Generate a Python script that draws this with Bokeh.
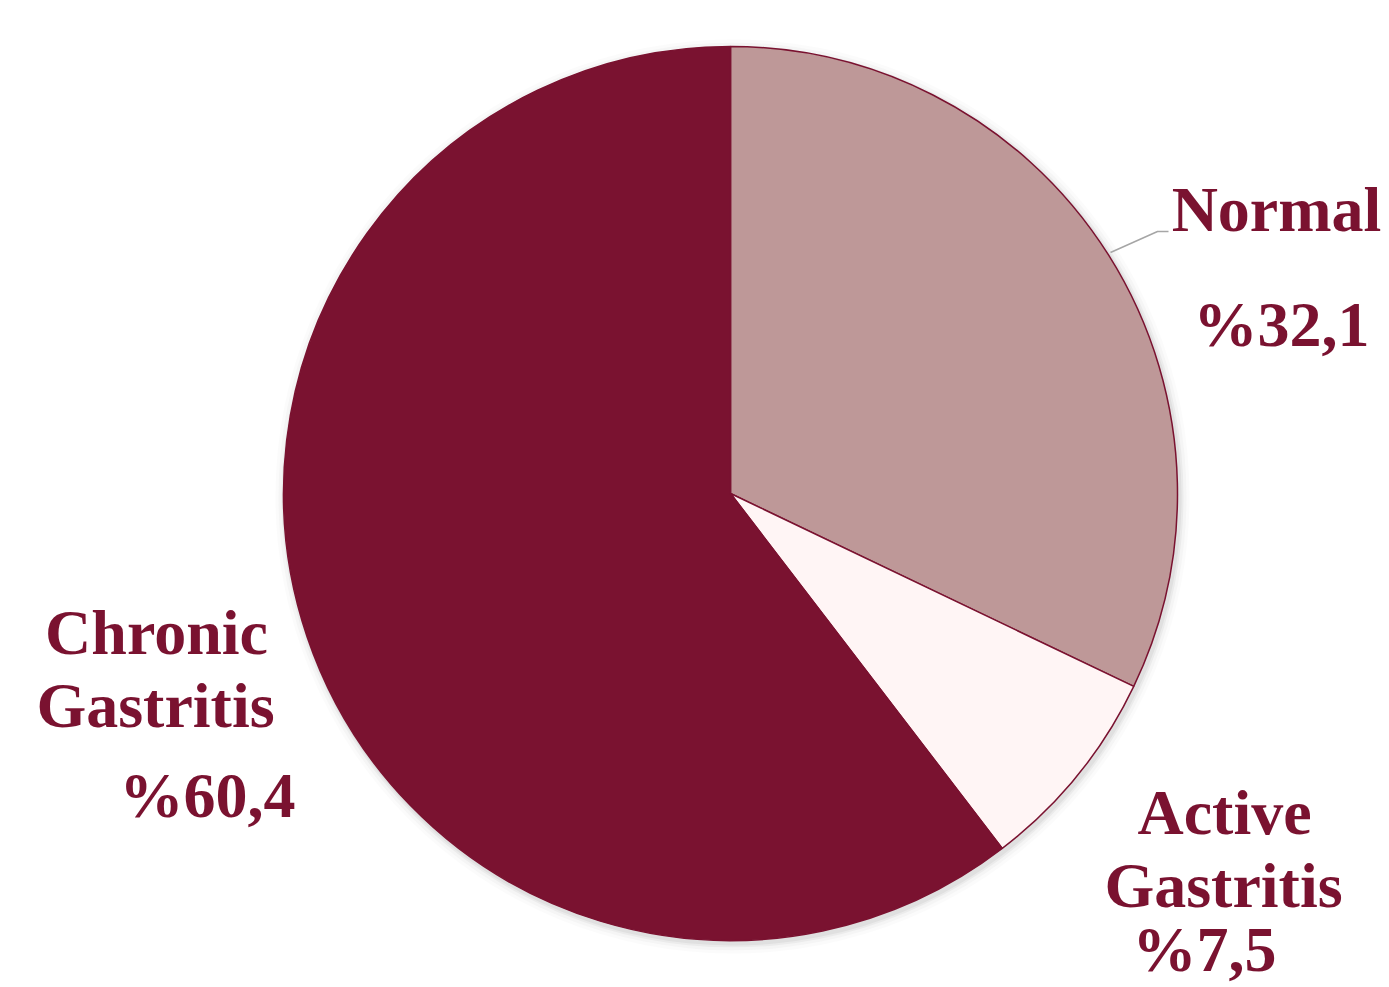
import math
from bokeh.plotting import figure
from bokeh.models import Range1d, ColumnDataSource
from bokeh.core.properties import value
from bokeh.embed import file_html
from bokeh.resources import INLINE

categories = ["Normal", "Active Gastritis", "Chronic Gastritis"]
percents = [32.1, 7.5, 60.4]
pct_labels = ["%32,1", "%7,5", "%60,4"]
colors = ["#BE9898", "#FFF5F5", "#7A1230"]

W, H = 1389, 987
p = figure(width=W, height=H, output_backend="svg", toolbar_location=None,
           x_range=Range1d(0, W), y_range=Range1d(0, H), min_border=0)
p.axis.visible = False
p.grid.visible = False
p.outline_line_color = None
p.background_fill_color = "white"
p.border_fill_color = "white"

cx, cy, r = 730, H - 493, 447

# soft shadow
for dr, a in [(10, 0.03), (7, 0.05), (4, 0.08), (2, 0.1)]:
    p.circle(x=[cx + 2], y=[cy - 3], radius=r + dr, fill_color="#808080",
             fill_alpha=a, line_color=None)

starts, ends = [], []
cum = 0.0
for v in percents:
    end = math.pi / 2 - 2 * math.pi * cum / 100.0
    cum += v
    start = math.pi / 2 - 2 * math.pi * cum / 100.0
    starts.append(start)
    ends.append(end)

src = ColumnDataSource(dict(start=starts, end=ends, color=colors, name=categories))
p.wedge(x=cx, y=cy, radius=r, start_angle="start", end_angle="end",
        fill_color="color", line_color="#7A1230", line_width=1.5, source=src)

# leader line for Normal
p.line(x=[1110, 1157, 1168], y=[H - 252, H - 231, H - 231], line_color="#A6A6A6", line_width=1.5)

txt_color = "#7A1230"
font = value("Liberation Serif")
fs = "64px"
off = 23

labels = [
    ("Normal", 1276, 232),
    (pct_labels[0], 1281, 347),
    ("Active", 1224, 835),
    ("Gastritis", 1223, 908),
    (pct_labels[1], 1204, 972),
    ("Chronic", 156, 655),
    ("Gastritis", 155, 728),
    (pct_labels[2], 207, 818),
]
p.text(x=[l[1] for l in labels], y=[H - l[2] + off for l in labels], text=[l[0] for l in labels],
       text_font=font, text_font_style="bold", text_font_size=fs,
       text_color=txt_color, text_align="center", text_baseline="alphabetic")

open("out.html", "w").write(file_html(p, INLINE))
